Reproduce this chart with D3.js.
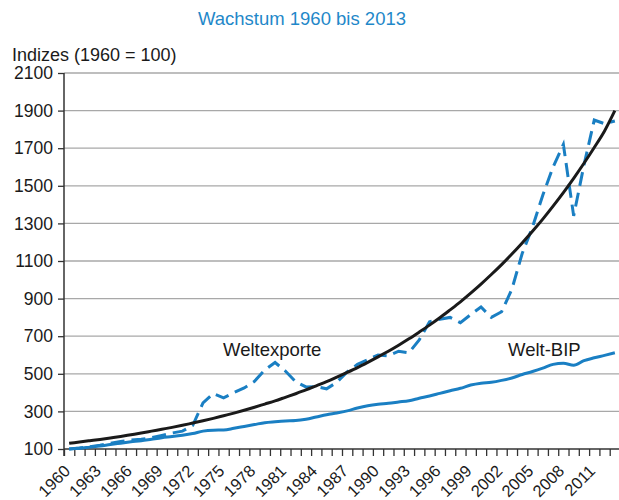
<!DOCTYPE html>
<html>
<head>
<meta charset="utf-8">
<script src="https://cdn.jsdelivr.net/npm/d3@7"></script>
<style>
  body { margin: 0; background: #fff; }
  text { font-family: "Liberation Sans", Arial, sans-serif; }
</style>
</head>
<body>
<script>
const years = d3.range(1960, 2014);
const yTicks = [100, 300, 500, 700, 900, 1100, 1300, 1500, 1700, 1900, 2100];
const xLabelYears = d3.range(1960, 2014, 3);

// Weltexporte (gestrichelt)
const exporte = [100, 105, 112, 120, 130, 140, 148, 152, 160, 172,
  185, 195, 225, 345, 395, 372, 400, 425, 460, 520,
  560, 515, 458, 430, 432, 420, 455, 510, 550, 575,
  600, 595, 620, 612, 680, 777, 790, 800, 772, 815,
  855, 800, 830, 950, 1140, 1280, 1450, 1600, 1720, 1340,
  1610, 1850, 1830, 1845];

// Welt-BIP
const bip = [100, 104, 110, 116, 124, 131, 138, 144, 152, 160,
  166, 173, 182, 195, 200, 201, 210, 220, 230, 240,
  245, 249, 251, 258, 270, 282, 292, 303, 318, 330,
  338, 343, 350, 357, 370, 382, 396, 410, 423, 440,
  450, 455, 465, 478, 496, 512, 530, 550, 556, 545,
  570, 585, 598, 612];

// Trendkurve
const trend = [130, 137, 144, 151, 159, 167, 176, 185, 195, 205,
  215, 226, 238, 250, 263, 277, 291, 306, 322, 339,
  356, 375, 394, 414, 436, 458, 482, 507, 533, 561,
  590, 620, 652, 686, 722, 759, 798, 840, 883, 929,
  977, 1028, 1081, 1137, 1196, 1258, 1323, 1392, 1464, 1540,
  1620, 1704, 1792, 1900];

const width = 619, height = 500;
const blue = "#1a7fc3";

const svg = d3.select("body").append("svg")
  .attr("width", width).attr("height", height);

const x = d3.scaleLinear().domain([1960, 2014]).range([64, 620]);
const y = d3.scaleLinear().domain([100, 2100]).range([449, 73]);

// title
svg.append("text")
  .attr("x", 302).attr("y", 25)
  .attr("text-anchor", "middle")
  .attr("font-size", 18.5)
  .attr("fill", "#1f88c9")
  .text("Wachstum 1960 bis 2013");

svg.append("text")
  .attr("x", 12).attr("y", 61)
  .attr("font-size", 18)
  .attr("fill", "#1a1a1a")
  .text("Indizes (1960 = 100)");

// grid
svg.append("g")
  .selectAll("line")
  .data(yTicks.slice(1))
  .enter().append("line")
  .attr("x1", 64).attr("x2", width)
  .attr("y1", d => y(d)).attr("y2", d => y(d))
  .attr("stroke", "#a8a8a8")
  .attr("stroke-width", 1.3);

// y axis
const yAxis = svg.append("g")
  .attr("transform", "translate(64,0)")
  .call(d3.axisLeft(y).tickValues(yTicks).tickSize(6).tickPadding(5)
    .tickFormat(d3.format("d")));
yAxis.select(".domain").remove();
yAxis.selectAll("line").attr("stroke", "#333").attr("stroke-width", 1.3);
yAxis.selectAll("text")
  .attr("font-size", 17.5)
  .attr("fill", "#1a1a1a")
  .attr("font-family", "Liberation Sans, Arial, sans-serif");

svg.append("line")
  .attr("x1", 64).attr("x2", 64)
  .attr("y1", y(2100)).attr("y2", 456)
  .attr("stroke", "#333").attr("stroke-width", 1.5);

// x axis
const xAxis = svg.append("g")
  .attr("transform", `translate(0,${y(100)})`)
  .call(d3.axisBottom(x).tickValues(years).tickSize(7).tickFormat(""));
xAxis.select(".domain").remove();
xAxis.selectAll("line").attr("stroke", "#333").attr("stroke-width", 1.3);

svg.append("line")
  .attr("x1", 64).attr("x2", width)
  .attr("y1", y(100)).attr("y2", y(100))
  .attr("stroke", "#333").attr("stroke-width", 1.5);

svg.append("g")
  .selectAll("text")
  .data(xLabelYears)
  .enter().append("text")
  .attr("transform", d => `translate(${x(d + 0.5) + 2},472) rotate(-45)`)
  .attr("text-anchor", "end")
  .attr("font-size", 16.5)
  .attr("fill", "#1a1a1a")
  .text(d => d);

// lines
const line = (data, curve) => d3.line()
  .x((d, i) => x(years[i] + 0.5))
  .y(d => y(d))
  .curve(curve)(data);

svg.append("path")
  .attr("d", line(bip, d3.curveMonotoneX))
  .attr("fill", "none")
  .attr("stroke", blue)
  .attr("stroke-width", 3);

svg.append("path")
  .attr("d", line(exporte, d3.curveLinear))
  .attr("fill", "none")
  .attr("stroke", blue)
  .attr("stroke-width", 3)
  .attr("stroke-dasharray", "14,7");

svg.append("path")
  .attr("d", line(trend, d3.curveMonotoneX))
  .attr("fill", "none")
  .attr("stroke", "#1a1a1a")
  .attr("stroke-width", 3);

// labels
svg.append("text")
  .attr("x", 223).attr("y", 356)
  .attr("font-size", 18.5)
  .attr("fill", "#1a1a1a")
  .text("Weltexporte");

svg.append("text")
  .attr("x", 508).attr("y", 356)
  .attr("font-size", 18.5)
  .attr("fill", "#1a1a1a")
  .text("Welt-BIP");
</script>
</body>
</html>
